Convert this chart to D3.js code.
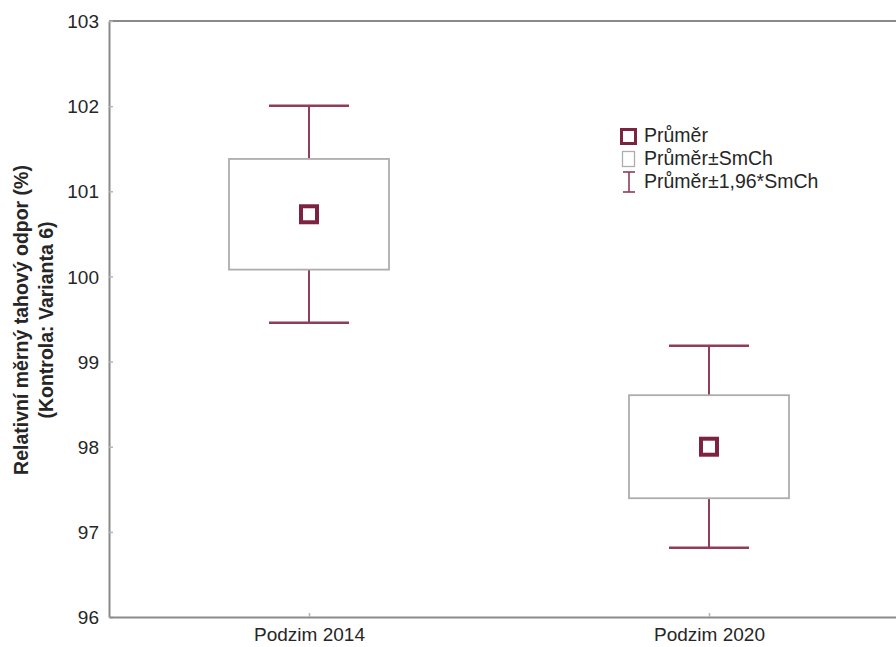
<!DOCTYPE html>
<html>
<head>
<meta charset="utf-8">
<script src="https://cdn.jsdelivr.net/npm/d3@7"></script>
<style>
  html, body { margin: 0; padding: 0; background: #fff; }
  svg { display: block; font-family: Arial, "Liberation Sans", sans-serif; }
</style>
</head>
<body>
<svg id="chart" width="896" height="647"></svg>
<script>
// Categories and statistics (mean and standard error of the mean)
const categories = ["Podzim 2014", "Podzim 2020"];
const means = [100.73, 98.0];
const stdErrors = [0.65, 0.605];
const yTicks = [96, 97, 98, 99, 100, 101, 102, 103];
const legendLabels = ["Průměr", "Průměr±SmCh", "Průměr±1,96*SmCh"];
const yTitleLines = ["Relativní měrný tahový odpor (%)", "(Kontrola: Varianta 6)"];

const svg = d3.select("#chart");
const margin = { left: 109, top: 21, right: 909, bottom: 617 };

const y = d3.scaleLinear().domain([96, 103]).range([margin.bottom, margin.top]);
const x = d3.scalePoint().domain(categories).range([margin.left, margin.right]).padding(0.5);

const frameColor = "#8a8a8a";
const markColor = "#7d2341";
const whiskerColor = "#8f3d58";
const boxColor = "#adadad";
const textColor = "#262626";

// Top frame line
svg.append("line").attr("x1", margin.left).attr("x2", 896)
  .attr("y1", margin.top).attr("y2", margin.top)
  .attr("stroke", frameColor).attr("stroke-width", 2);

// Y axis with inward ticks
const yAxis = svg.append("g").attr("transform", `translate(${margin.left},0)`)
  .call(d3.axisLeft(y).tickValues(yTicks).tickFormat(d3.format("d")).tickSizeInner(-4).tickSizeOuter(0).tickPadding(10));
yAxis.select(".domain").attr("stroke", frameColor).attr("stroke-width", 2);
yAxis.selectAll(".tick line").attr("stroke", "#b5b5b5").attr("stroke-width", 1.5);
yAxis.selectAll(".tick text").attr("font-size", 19).attr("fill", textColor).attr("dy", "0.35em");

// X axis with inward ticks
const xAxis = svg.append("g").attr("transform", `translate(0,${margin.bottom})`)
  .call(d3.axisBottom(x).tickSizeInner(-4).tickSizeOuter(0).tickPadding(11));
xAxis.select(".domain").attr("stroke", frameColor).attr("stroke-width", 2);
xAxis.selectAll(".tick line").attr("stroke", "#b5b5b5").attr("stroke-width", 1.5);
xAxis.selectAll(".tick text").attr("font-size", 19).attr("fill", textColor);

// Y axis title, two lines
const yTitle = svg.append("text")
  .attr("transform", "translate(28,320) rotate(-90)")
  .attr("text-anchor", "middle")
  .attr("font-size", 19.5).attr("font-weight", "bold").attr("fill", textColor);
yTitleLines.forEach((t, i) => {
  yTitle.append("tspan").attr("x", 0).attr("dy", i === 0 ? 0 : 25).text(t);
});

// Mean ± SE boxes and mean ± 1.96·SE whiskers
const boxW = 160, capW = 80, markerS = 20;
const groups = svg.append("g").selectAll("g").data(categories).join("g");

groups.each(function(c, i) {
  const g = d3.select(this);
  const cx = x(c);
  const m = means[i], se = stdErrors[i];
  const boxTop = y(m + se), boxBot = y(m - se);
  const wTop = y(m + 1.96 * se), wBot = y(m - 1.96 * se);

  g.append("line").attr("x1", cx).attr("x2", cx).attr("y1", wTop).attr("y2", boxTop)
    .attr("stroke", whiskerColor).attr("stroke-width", 2);
  g.append("line").attr("x1", cx).attr("x2", cx).attr("y1", boxBot).attr("y2", wBot)
    .attr("stroke", whiskerColor).attr("stroke-width", 2);
  g.append("line").attr("x1", cx - capW / 2).attr("x2", cx + capW / 2).attr("y1", wTop).attr("y2", wTop)
    .attr("stroke", whiskerColor).attr("stroke-width", 2.5);
  g.append("line").attr("x1", cx - capW / 2).attr("x2", cx + capW / 2).attr("y1", wBot).attr("y2", wBot)
    .attr("stroke", whiskerColor).attr("stroke-width", 2.5);

  g.append("rect").attr("x", cx - boxW / 2).attr("y", boxTop)
    .attr("width", boxW).attr("height", boxBot - boxTop)
    .attr("fill", "none").attr("stroke", boxColor).attr("stroke-width", 1.8);

  g.append("rect").attr("x", cx - markerS / 2 + 2).attr("y", y(m) - markerS / 2 + 2)
    .attr("width", markerS - 4).attr("height", markerS - 4)
    .attr("fill", "#fff").attr("stroke", markColor).attr("stroke-width", 4);
});

// Legend
const legend = svg.append("g").attr("transform", "translate(620,128)");
legend.append("rect").attr("x", 1.5).attr("y", 1.5).attr("width", 14).attr("height", 14)
  .attr("fill", "#fff").attr("stroke", markColor).attr("stroke-width", 3);
legend.append("rect").attr("x", 2.5).attr("y", 23.5).attr("width", 12).attr("height", 15)
  .attr("fill", "#fff").attr("stroke", boxColor).attr("stroke-width", 1.3);
legend.append("line").attr("x1", 9).attr("x2", 9).attr("y1", 44).attr("y2", 64)
  .attr("stroke", whiskerColor).attr("stroke-width", 1.6);
legend.append("line").attr("x1", 3).attr("x2", 15).attr("y1", 44).attr("y2", 44)
  .attr("stroke", whiskerColor).attr("stroke-width", 1.6);
legend.append("line").attr("x1", 3).attr("x2", 15).attr("y1", 64).attr("y2", 64)
  .attr("stroke", whiskerColor).attr("stroke-width", 1.6);
legend.selectAll("text").data(legendLabels).join("text")
  .attr("x", 24).attr("y", (d, i) => 14 + i * 23)
  .attr("font-size", 19.5).attr("fill", textColor)
  .text(d => d);
</script>
</body>
</html>
